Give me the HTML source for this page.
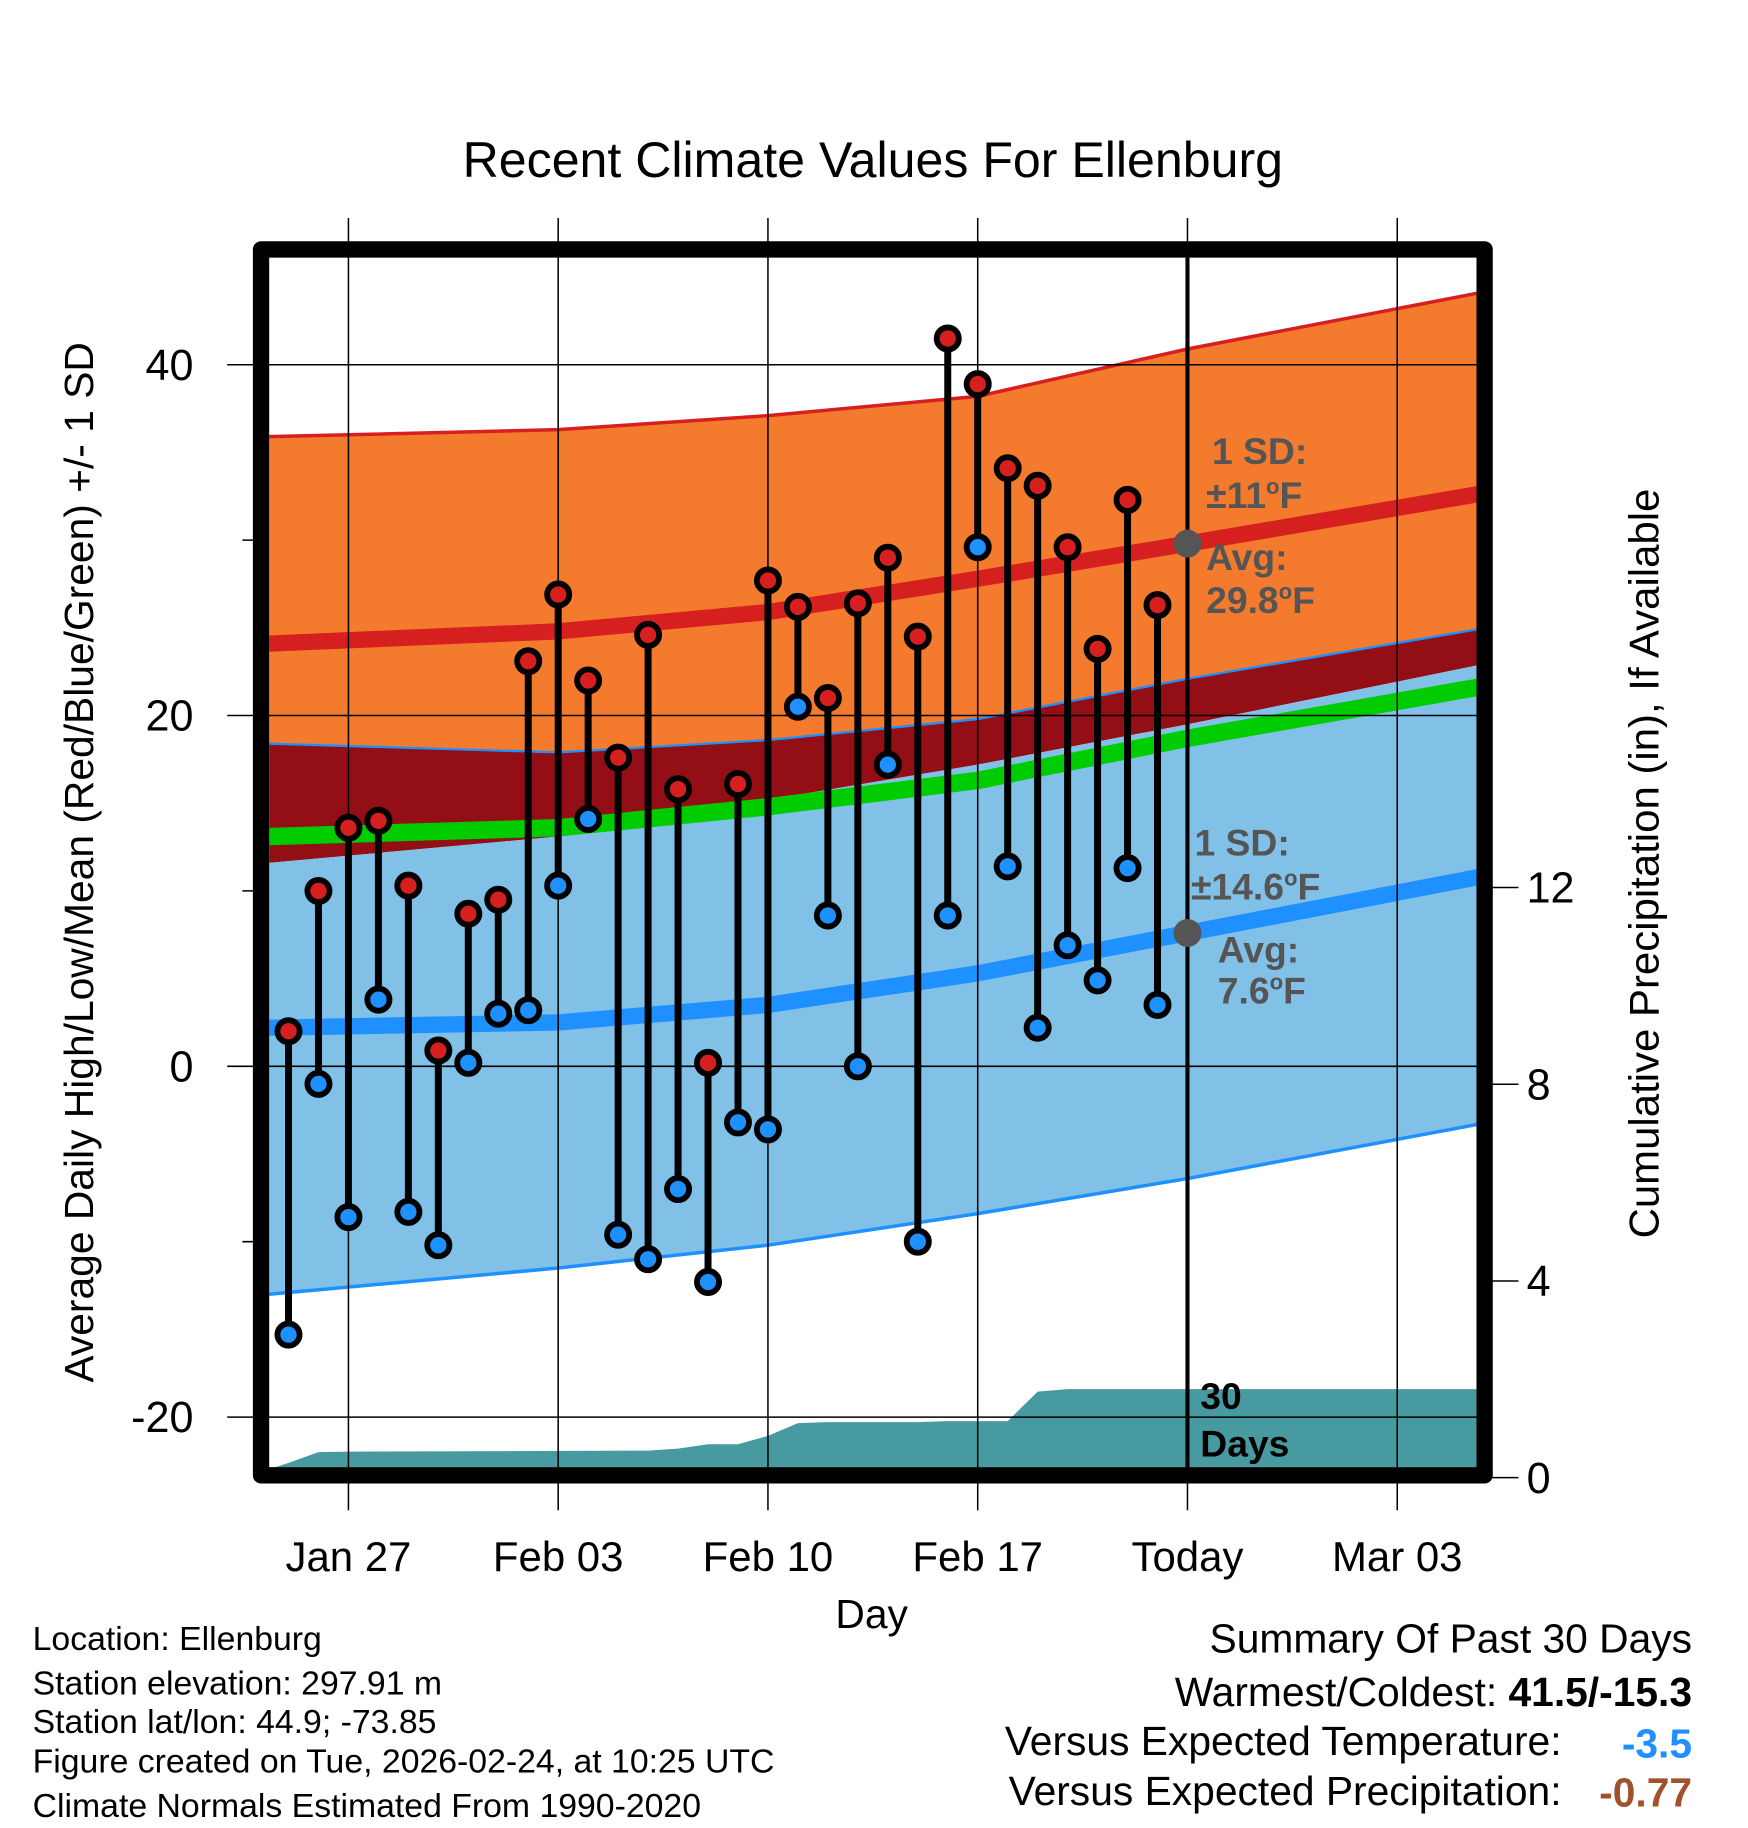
<!DOCTYPE html>
<html><head><meta charset="utf-8"><style>
html,body{margin:0;padding:0;background:#fff}
svg{display:block}
text{font-family:"Liberation Sans",sans-serif}
</style></head><body>
<svg id="chart" width="1748" height="1828" viewBox="0 0 1500 1568.6" xmlns="http://www.w3.org/2000/svg">
<rect width="1500" height="1568.6" fill="#fff"/>
<defs><clipPath id="plotclip"><rect x="231" y="221" width="1036" height="1038"/></clipPath></defs>
<g id="bands" clip-path="url(#plotclip)"></g>
<g id="grid"></g>
<g id="marks"></g>
<rect x="224" y="214" width="1050" height="1052" fill="none" stroke="#000" stroke-width="14" stroke-linejoin="round"/>
<text x="749" y="152" font-size="43" text-anchor="middle">Recent Climate Values For Ellenburg</text>
<text transform="translate(80,740) rotate(-90)" font-size="35" text-anchor="middle">Average Daily High/Low/Mean (Red/Blue/Green) +/- 1 SD</text>
<text transform="translate(1423,741) rotate(-90)" font-size="36" text-anchor="middle">Cumulative Precipitation (in), If Available</text>
<text x="748" y="1397" font-size="35" text-anchor="middle">Day</text>
<g font-size="32" font-weight="bold" fill="#555">
<text x="1040" y="398">1 SD:</text><text x="1035" y="436">±11<tspan font-size="19" dy="-12">o</tspan><tspan dy="12">F</tspan></text>
<text x="1035" y="489">Avg:</text><text x="1035" y="526">29.8<tspan font-size="19" dy="-12">o</tspan><tspan dy="12">F</tspan></text>
<text x="1025" y="734">1 SD:</text><text x="1022" y="772">±14.6<tspan font-size="19" dy="-12">o</tspan><tspan dy="12">F</tspan></text>
<text x="1045" y="826">Avg:</text><text x="1045" y="861">7.6<tspan font-size="19" dy="-12">o</tspan><tspan dy="12">F</tspan></text>
</g>
<g font-size="32" font-weight="bold" fill="#000">
<text x="1030" y="1209">30</text><text x="1030" y="1250">Days</text></g>
<g font-size="29">
<text x="28" y="1416">Location: Ellenburg</text>
<text x="28" y="1454">Station elevation: 297.91 m</text>
<text x="28" y="1487">Station lat/lon: 44.9; -73.85</text>
<text x="28" y="1521">Figure created on Tue, 2026-02-24, at 10:25 UTC</text>
<text x="28" y="1559">Climate Normals Estimated From 1990-2020</text>
</g>
<g font-size="35">
<text x="1452" y="1418" text-anchor="end">Summary Of Past 30 Days</text>
<text x="1452" y="1464" text-anchor="end">Warmest/Coldest: <tspan font-weight="bold">41.5/-15.3</tspan></text>
<text x="1340" y="1506" text-anchor="end">Versus Expected Temperature:</text>
<text x="1452" y="1508" text-anchor="end" font-weight="bold" fill="#1e90ff">-3.5</text>
<text x="1340" y="1549" text-anchor="end">Versus Expected Precipitation:</text>
<text x="1452" y="1550" text-anchor="end" font-weight="bold" fill="#a0522d">-0.77</text>
</g>
</svg>
<script>
// days relative to Jan 27
const highs=[2,10,13.6,14,10.3,0.9,8.7,9.5,23.1,26.9,22,17.6,24.6,15.8,0.2,16.1,27.7,26.2,21,26.4,29,24.5,41.5,38.9,34.1,33.1,29.6,23.8,32.3,26.3];
const lows=[-15.3,-1,-8.6,3.8,-8.3,-10.2,0.2,3,3.2,10.3,14.1,-9.6,-11,-7,-12.3,-3.2,-3.6,20.5,8.6,0,17.2,-10,8.6,29.6,11.4,2.2,6.9,4.9,11.3,3.5];
const firstDay=-2;
const normDays=[-2.65,7,14,21,28,38.65];
const normHighSDup=[35.9,36.3,37.1,38.2,40.9,44.4];
const normHigh=[24.1,24.8,25.9,27.8,29.8,32.9];
const normHighSDlo=[18.4,17.9,18.6,19.8,22.1,25.2];
const normOverlapLo=[11.6,13.1,15.2,17.2,19.5,23.2];
const normMean=[13.1,13.6,14.8,16.3,18.7,21.9];
const normLow=[2.2,2.5,3.5,5.3,7.6,11.1];
const normLowSDlo=[-13,-11.5,-10.2,-8.4,-6.4,-3.0];
const precipDays=[-3,-2,-1,0,10,11,12,13,14,15,16,19,20,21,22,23,24,25,26,27,28,39];
const precipCum=[0.1,0.3,0.52,0.53,0.55,0.59,0.68,0.68,0.85,1.11,1.13,1.13,1.15,1.15,1.15,1.75,1.8,1.8,1.8,1.8,1.8,1.8];
const xTickDays=[0,7,14,21,28,35];
const xTickLabels=["Jan 27","Feb 03","Feb 10","Feb 17","Today","Mar 03"];
const yTicks=[40,20,0,-20];const yMinor=[30,10,-10];
const y2Ticks=[0,4,8,12];

const X=d=>299+d*180/7;
const Y=t=>915-t*15.05;
const Y2=p=>1268-p*42.2;
const NS="http://www.w3.org/2000/svg";
function mk(tag,attrs,parent){const e=document.createElementNS(NS,tag);for(const k in attrs)e.setAttribute(k,attrs[k]);parent.appendChild(e);return e;}
const bands=document.getElementById('bands'),grid=document.getElementById('grid'),marks=document.getElementById('marks');
function pts(arr){return normDays.map((d,i)=>X(d)+','+Y(arr[i]));}
function band(up,lo,fill,name){const p=pts(up).concat(pts(lo).reverse()).join(' ');
 const e=mk('polygon',{points:p,fill:fill},bands);
 
 }
function line(arr,col,w,name){const e=mk('polyline',{points:pts(arr).join(' '),fill:'none',stroke:col,'stroke-width':w},bands);
 
 }
band(normHighSDup,normHighSDlo,'#f47a2e','high-sd-band');
band(normHighSDlo,normOverlapLo,'#930e15','overlap-band');
band(normOverlapLo,normLowSDlo,'#82c1e7','low-sd-band');
line(normHighSDup,'#d62020',3,'high-sd-upper-line');
line(normHighSDlo,'#1e90ff',2,'high-sd-lower-line');
line(normLowSDlo,'#1e90ff',3,'low-sd-lower-line');
line(normMean,'#00cc00',15,'mean-line');
line(normHigh,'#d62020',14,'avg-high-line');
line(normLow,'#1e90ff',14,'avg-low-line');
// precip
let pp=[X(precipDays[0])+','+Y2(0)];
precipDays.forEach((d,i)=>pp.push(X(d)+','+Y2(precipCum[i])));
pp.push(X(precipDays[precipDays.length-1])+','+Y2(0));
const pe=mk('polygon',{points:pp.join(' '),fill:'#479aa0'},bands);


// grid & ticks
xTickDays.forEach((d,i)=>{
 const g=mk('line',{x1:X(d),x2:X(d),y1:187,y2:1296,stroke:'#000','stroke-width':1.3},grid);
 
 
 const t=mk('text',{x:X(d),y:1348,'font-size':36,'text-anchor':'middle'},grid);t.textContent=xTickLabels[i];
 
 
});
yTicks.forEach(v=>{
 const g=mk('line',{x1:195,x2:1267,y1:Y(v),y2:Y(v),stroke:'#000','stroke-width':1.3},grid);
 
 
 const t=mk('text',{x:166,y:Y(v)+13,'font-size':37,'text-anchor':'end'},grid);t.textContent=v;
 
 
});
yMinor.forEach(v=>{const g=mk('line',{x1:208,x2:224,y1:Y(v),y2:Y(v),stroke:'#000','stroke-width':1.3},grid);
 
 });
y2Ticks.forEach(v=>{
 const g=mk('line',{x1:1274,x2:1303,y1:Y2(v),y2:Y2(v),stroke:'#000','stroke-width':1.3},grid);
 
 
 const t=mk('text',{x:1310,y:Y2(v)+13,'font-size':37},grid);t.textContent=v;
 
 
});
// today line
const tl=mk('line',{x1:X(28),x2:X(28),y1:221,y2:1259,stroke:'#000','stroke-width':3.5},marks);


[[normHigh[4]],[normLow[4]]].forEach(a=>{const c=mk('circle',{cx:X(28),cy:Y(a[0]),r:12,fill:'#555'},marks);
 
 });
// stems & dots
highs.forEach((h,i)=>{
 const x=X(firstDay+i);
 const s=mk('line',{x1:x,x2:x,y1:Y(h),y2:Y(lows[i]),stroke:'#000','stroke-width':6},marks);
 
 
 const lc=mk('circle',{cx:x,cy:Y(lows[i]),r:9.5,fill:'#1e90ff',stroke:'#000','stroke-width':5},marks);
 
 
 const hc=mk('circle',{cx:x,cy:Y(h),r:9.5,fill:'#d62020',stroke:'#000','stroke-width':5},marks);
 
 
});
</script>
</body></html>
